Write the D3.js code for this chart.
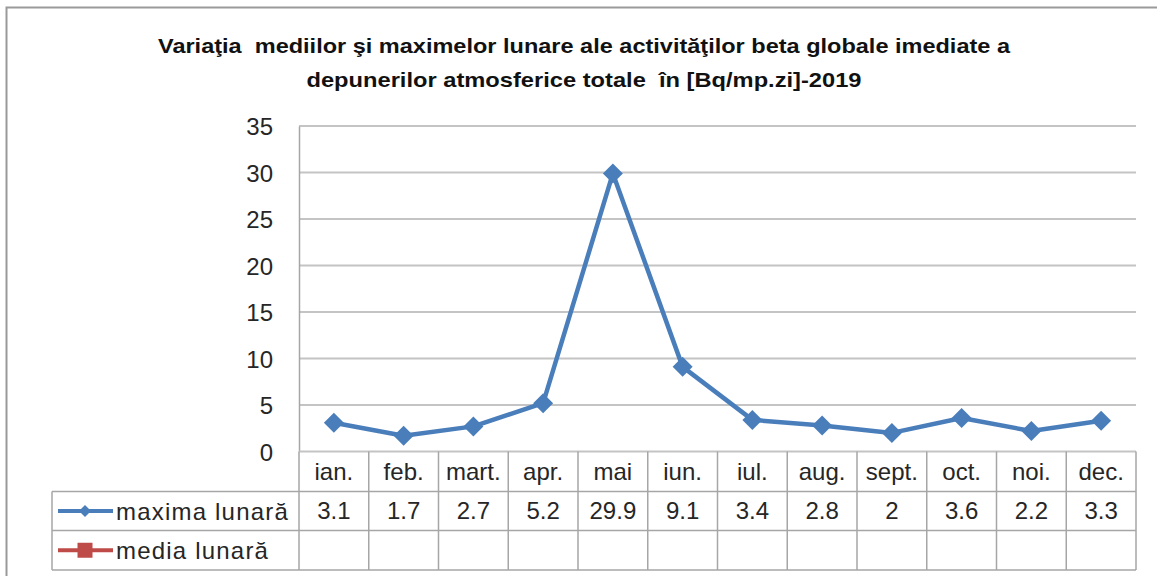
<!DOCTYPE html>
<html>
<head>
<meta charset="utf-8">
<script src="https://cdn.jsdelivr.net/npm/d3@7"></script>
<style>
  html, body { margin: 0; padding: 0; background: #fff; }
  svg { display: block; }
  text { white-space: pre; }
</style>
</head>
<body>
<svg id="chart" width="1157" height="576"></svg>
<script>
// Monthly categories (Romanian abbreviations)
const months = ["ian.", "feb.", "mart.", "apr.", "mai", "iun.", "iul.", "aug.", "sept.", "oct.", "noi.", "dec."];
// Monthly maxima of global beta activity, Bq/m²·day
const maximaLunara = [3.1, 1.7, 2.7, 5.2, 29.9, 9.1, 3.4, 2.8, 2, 3.6, 2.2, 3.3];
// Monthly means – no values reported
const mediaLunara = [null, null, null, null, null, null, null, null, null, null, null, null];
const yTicks = [0, 5, 10, 15, 20, 25, 30, 35];
const seriesNames = ["maxima lunară", "media lunară"];
const titleLines = [
  "Variaţia  mediilor şi maximelor lunare ale activităţilor beta globale imediate a",
  "depunerilor atmosferice totale  în [Bq/mp.zi]-2019"
];
const titleWidths = [852, 555];

const svg = d3.select("#chart");
const font = "'Liberation Sans', Arial, sans-serif";
const blue = "#4a7ebb", red = "#be4b48", grid = "#c4c4c4", tableLine = "#a6a6a6", ink = "#262626";

// Outer chart frame
svg.append("rect")
  .attr("x", 6.5).attr("y", 7.5).attr("width", 1200).attr("height", 620)
  .attr("fill", "none").attr("stroke", "#9a9a9a").attr("stroke-width", 2);

// Title
svg.append("g").selectAll("text").data(titleLines).join("text")
  .attr("x", 584).attr("y", (d, i) => 53 + i * 34)
  .attr("text-anchor", "middle")
  .attr("font-family", font).attr("font-weight", "bold").attr("font-size", 21)
  .attr("textLength", (d, i) => titleWidths[i]).attr("lengthAdjust", "spacingAndGlyphs")
  .attr("fill", "#111")
  .text(d => d);

const plot = { left: 299, right: 1136, top: 126, bottom: 451.5 };
const x = d3.scaleBand().domain(months).range([plot.left, plot.right]);
const y = d3.scaleLinear().domain([0, 35]).range([plot.bottom, plot.top]);
const cx = m => x(m) + x.bandwidth() / 2;

// Horizontal gridlines
svg.append("g").selectAll("line").data(yTicks.filter(t => t > 0)).join("line")
  .attr("x1", plot.left).attr("x2", plot.right)
  .attr("y1", d => y(d)).attr("y2", d => y(d))
  .attr("stroke", grid).attr("stroke-width", 2);

// Y axis
const yAxis = svg.append("g")
  .attr("transform", `translate(${plot.left},0)`)
  .call(d3.axisLeft(y).tickValues(yTicks).tickSize(0).tickPadding(26));
yAxis.select(".domain").attr("stroke", tableLine).attr("stroke-width", 1.5);
yAxis.selectAll("text")
  .attr("font-family", font).attr("font-size", 24).attr("fill", ink)
  .attr("dy", "0.36em");

// Data table under the plot
const rows = [451.5, 491.5, 530.5, 570];
const tableLeft = 52;
const tbl = svg.append("g").attr("stroke", tableLine).attr("stroke-width", 1.5);
tbl.append("line").attr("x1", plot.left).attr("x2", plot.right).attr("y1", rows[0]).attr("y2", rows[0])
  .attr("stroke", grid).attr("stroke-width", 2);
rows.slice(1).forEach(r => {
  tbl.append("line").attr("x1", tableLeft).attr("x2", plot.right).attr("y1", r).attr("y2", r);
});
const colEdges = months.map(m => x(m)).concat([plot.right]);
tbl.selectAll("line.col").data(colEdges).join("line").attr("class", "col")
  .attr("x1", d => d).attr("x2", d => d).attr("y1", rows[0]).attr("y2", rows[3]);
tbl.append("line").attr("x1", tableLeft).attr("x2", tableLeft).attr("y1", rows[1]).attr("y2", rows[3]);

// Category labels
svg.append("g").selectAll("text").data(months).join("text")
  .attr("x", d => cx(d)).attr("y", 480)
  .attr("text-anchor", "middle").attr("font-family", font).attr("font-size", 24).attr("fill", ink)
  .text(d => d);

// Values row
svg.append("g").selectAll("text").data(maximaLunara).join("text")
  .attr("x", (d, i) => cx(months[i])).attr("y", 519)
  .attr("text-anchor", "middle").attr("font-family", font).attr("font-size", 24).attr("fill", ink)
  .text(d => d);

// Marker shapes
const diamondPath = r => `M0,${-r}L${r},0L0,${r}L${-r},0Z`;
const squarePath = r => `M${-r},${-r}H${r}V${r}H${-r}Z`;

// Legend keys within the table
const keyY = [(rows[1] + rows[2]) / 2, (rows[2] + rows[3]) / 2];
const keyColors = [blue, red];
seriesNames.forEach((name, i) => {
  const g = svg.append("g");
  g.append("line").attr("x1", 58).attr("x2", 113).attr("y1", keyY[i]).attr("y2", keyY[i])
    .attr("stroke", keyColors[i]).attr("stroke-width", 4);
  g.append("path")
    .attr("d", i === 0 ? diamondPath(6) : squarePath(7.5))
    .attr("transform", `translate(85,${keyY[i]})`)
    .attr("fill", keyColors[i]);
  g.append("text").attr("x", 116).attr("y", keyY[i] + 9)
    .attr("font-family", font).attr("font-size", 24).attr("letter-spacing", 1.2).attr("fill", ink)
    .text(name);
});

// Series line: maxima lunară
const pts = maximaLunara.map((v, i) => ({ m: months[i], v }));
const line = d3.line().x(d => cx(d.m)).y(d => y(d.v));
svg.append("path").datum(pts)
  .attr("d", line).attr("fill", "none").attr("stroke", blue)
  .attr("stroke-width", 4.5).attr("stroke-linejoin", "round");
svg.append("g").selectAll("path").data(pts).join("path")
  .attr("d", diamondPath(10))
  .attr("transform", d => `translate(${cx(d.m)},${y(d.v)})`)
  .attr("fill", blue);

// Series line: media lunară (no data points)
const mediaPts = mediaLunara.map((v, i) => ({ m: months[i], v })).filter(d => d.v != null);
svg.append("path").datum(mediaPts)
  .attr("d", line).attr("fill", "none").attr("stroke", red).attr("stroke-width", 4);
</script>
</body>
</html>
